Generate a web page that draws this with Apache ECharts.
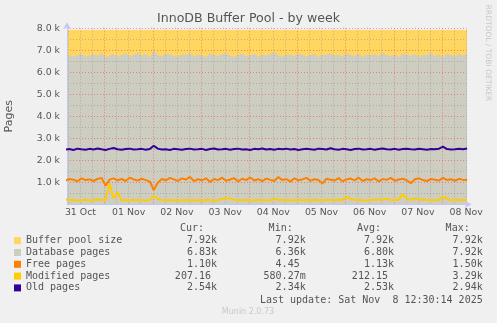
<!DOCTYPE html>
<html><head><meta charset="utf-8">
<script src="https://cdn.jsdelivr.net/npm/echarts@6/dist/echarts.min.js"></script>
<style>html,body{margin:0;padding:0;background:#f0f0f0}#c{width:497px;height:323px}</style>
</head><body><div id="c"></div>
<script>
// time in hours after 31 Oct 00:00
const startHour = 4.5;
const stepHours = 2;
const axisStartHour = 5.3;
const axisEndHour = 204.2;
const dayLabels = ['31 Oct','01 Nov','02 Nov','03 Nov','04 Nov','05 Nov','06 Nov','07 Nov','08 Nov'];
const yTickLabels = ['1.0 k','2.0 k','3.0 k','4.0 k','5.0 k','6.0 k','7.0 k','8.0 k'];

const bufferPoolSize = 7920;
const databasePages = [
6800,6760,6720,6780,6850,6700,6790,6820,6750,6880,
6690,6760,6830,6710,6800,6850,6740,6790,6900,6760,
6820,6700,6980,6780,6720,6860,6800,6750,6690,6830,
6770,6880,6720,6810,6760,6700,6850,6790,6740,6820,
6870,6760,6700,6800,6840,6730,6780,6860,6720,6800,
6750,6830,6900,6770,6710,6820,6790,6740,6860,6800,
6730,6780,6840,6700,6820,6770,6880,6750,6800,6720,
6850,6790,6740,6870,6690,6810,6760,6830,6720,6900,
6780,6740,6820,6700,6860,6790,6750,6830,6710,6800,
6770,6880,6740,6810,6690,6850,6780,6720,6830,6760,6830];
const freePages = [
1080,1150,1120,1050,1180,1100,1130,1060,1150,1200,
840,1120,1180,1090,1150,1060,1210,1130,1080,1160,
1100,1040,650,980,1150,1090,1200,1130,1060,1180,
1120,1250,1050,1140,1090,1180,1020,1150,1100,1210,
1070,1130,1190,1040,1160,1100,1220,1080,1140,1050,
1170,1110,1060,1240,1100,1150,1030,1180,1090,1130,
1200,1070,1140,1100,950,1160,1120,1080,1190,1050,
1130,1170,1090,1210,1060,1140,1100,1180,1040,1150,
1110,1200,1070,1130,1160,1090,960,1140,1180,1100,
1060,1150,1120,1080,1200,1100,1140,1070,1160,1110,1100];
const modifiedPages = [
220,180,200,170,190,210,160,200,230,190,
200,950,260,550,180,200,170,210,190,180,
170,200,380,250,190,170,200,180,160,190,
180,200,170,190,160,210,180,170,200,240,
300,260,200,180,190,210,170,180,200,190,
170,190,250,210,180,200,170,190,210,180,
190,170,210,200,180,200,190,180,210,200,
350,240,190,210,180,170,200,190,230,200,
260,200,190,210,460,250,200,280,210,220,
190,200,180,210,340,260,170,220,190,200,207];
const oldPages = [
2490,2510,2470,2530,2500,2480,2520,2490,2540,2500,
2470,2520,2560,2500,2480,2510,2530,2490,2500,2520,
2480,2510,2660,2530,2490,2500,2470,2520,2500,2480,
2510,2530,2490,2500,2520,2470,2510,2540,2490,2500,
2520,2480,2510,2530,2490,2500,2470,2520,2500,2540,
2490,2510,2480,2520,2500,2530,2490,2510,2470,2500,
2520,2500,2480,2530,2510,2490,2550,2500,2480,2520,
2500,2470,2510,2530,2490,2500,2520,2480,2510,2540,
2500,2490,2520,2480,2510,2530,2500,2490,2520,2500,
2480,2510,2500,2530,2620,2510,2490,2500,2520,2500,2540];

const seriesNames = ['Buffer pool size','Database pages','Free pages','Modified pages','Old pages'];
const seriesColors = ['#ffd660','#cdcdc1','#ff8000','#ffcc00','#330099'];
const statHeaders = ['Cur:','Min:','Avg:','Max:'];
const statCur = ['7.92k','6.83k','1.10k','207.16 ','2.54k'];
const statMin = ['7.92k','6.36k','4.45 ','580.27m','2.34k'];
const statAvg = ['7.92k','6.80k','1.13k','212.15 ','2.53k'];
const statMax = ['7.92k','7.92k','1.50k','3.29k','2.94k'];
const lastUpdate = 'Last update: Sat Nov  8 12:30:14 2025';

function toXY(arr){ return arr.map((v,i)=>[startHour+i*stepHours, v]); }
const lastHour = startHour + (databasePages.length-1)*stepHours;

const gridHours = [];
for (let h = 6; h < axisEndHour; h += 6) gridHours.push(h);
const noonHours = dayLabels.map((d,i)=>12+24*i);

const minorC = 'rgba(130,130,130,0.45)';
const majorC = 'rgba(235,80,80,0.6)';
const axisC = '#c4c6f4';
const textC = '#555555';
const mono = '"DejaVu Sans Mono", monospace';

const chart = echarts.init(document.getElementById('c'), null, {renderer:'canvas'});

const graphics = [];
const rowY = [240.7, 252.5, 264.3, 276.1, 287.9];
const colRight = [217, 305.7, 394, 482.7];
statHeaders.forEach((h,j)=>{
  graphics.push({type:'text', x: colRight[j]-13, y: 228.5, style:{text:h, font:'10px '+mono, fill:textC, textAlign:'right', textVerticalAlign:'middle'}});
});
const cols = [statCur, statMin, statAvg, statMax];
seriesNames.forEach((n,i)=>{
  graphics.push({type:'rect', shape:{x:14, y:rowY[i]-3.5, width:7, height:7}, style:{fill:seriesColors[i]}});
  graphics.push({type:'text', x:26, y:rowY[i], style:{text:n, font:'10px '+mono, fill:textC, textVerticalAlign:'middle'}});
  cols.forEach((c,j)=>{
    const s = c[i];
    const trail = s.endsWith(' ') ? 6.02 : 0;
    graphics.push({type:'text', x:colRight[j]-trail, y:rowY[i], style:{text:s.trim(), font:'10px '+mono, fill:textC, textAlign:'right', textVerticalAlign:'middle'}});
  });
});
graphics.push({type:'text', x:482.7, y:300, style:{text:lastUpdate, font:'10px '+mono, fill:textC, textAlign:'right', textVerticalAlign:'middle'}});
graphics.push({type:'text', x:248, y:312, style:{text:'Munin 2.0.73', font:'8px "DejaVu Sans"', fill:'#c8c8c8', textAlign:'center', textVerticalAlign:'middle'}});
graphics.push({type:'text', x:488, y:53, rotation:-Math.PI/2, style:{text:'RRDTOOL / TOBI OETIKER', font:'7.5px "DejaVu Sans"', fill:'#c8c8c8', textAlign:'center', textVerticalAlign:'middle'}});

chart.setOption({
  backgroundColor:'#f0f0f0',
  animation:false,
  title:{text:'InnoDB Buffer Pool - by week', left:'center', top:12, padding:0,
    textStyle:{fontFamily:'DejaVu Sans', fontSize:12.6, fontWeight:'normal', color:textC}},
  grid:{left:67, right:30.5, top:28.3, bottom:118.7, containLabel:false, outerBoundsMode:'none'},
  xAxis:{type:'value', min:axisStartHour, max:axisEndHour, z:2,
    axisLine:{show:true, lineStyle:{color:axisC, width:1}, symbol:['none','arrow'], symbolSize:[6,7], symbolOffset:[0,5]},
    axisTick:{show:false, customValues:gridHours},
    splitLine:{show:true, lineStyle:{type:[1,2], width:1, color:[minorC,minorC,minorC,majorC]}},
    axisLabel:{customValues:noonHours, margin:4, fontFamily:'DejaVu Sans', fontSize:9.4, color:textC,
      formatter:v=>dayLabels[Math.round((v-12)/24)]||''}
  },
  yAxis:{type:'value', min:0, max:8000, interval:500, z:2,
    name:'Pages', nameLocation:'middle', nameGap:52,
    nameTextStyle:{fontFamily:'DejaVu Sans', fontSize:11, color:textC},
    axisLine:{show:true, lineStyle:{color:axisC, width:1}, symbol:['none','arrow'], symbolSize:[6,7], symbolOffset:[0,6]},
    axisTick:{show:false},
    splitLine:{show:true, lineStyle:{type:[1,2], width:1, color:[majorC,minorC]}},
    axisLabel:{margin:7, fontFamily:'DejaVu Sans', fontSize:9.4, color:textC,
      formatter:v=>(v>0 && v%1000===0)? yTickLabels[v/1000-1] : ''}
  },
  series:[
    {name:seriesNames[0], type:'line', z:1, symbol:'none', lineStyle:{width:0}, areaStyle:{color:seriesColors[0], opacity:1},
      data:[[startHour,bufferPoolSize],[lastHour,bufferPoolSize]]},
    {name:seriesNames[1], type:'line', z:1, symbol:'none', lineStyle:{width:0}, areaStyle:{color:seriesColors[1], opacity:1},
      data:toXY(databasePages)},
    {name:seriesNames[2], type:'line', z:3, symbol:'none', lineStyle:{width:2, color:seriesColors[2]}, data:toXY(freePages)},
    {name:seriesNames[3], type:'line', z:3, symbol:'none', lineStyle:{width:2, color:seriesColors[3]}, data:toXY(modifiedPages)},
    {name:seriesNames[4], type:'line', z:3, symbol:'none', lineStyle:{width:2, color:seriesColors[4]}, data:toXY(oldPages)}
  ],
  graphic:graphics
});
</script></body></html>
